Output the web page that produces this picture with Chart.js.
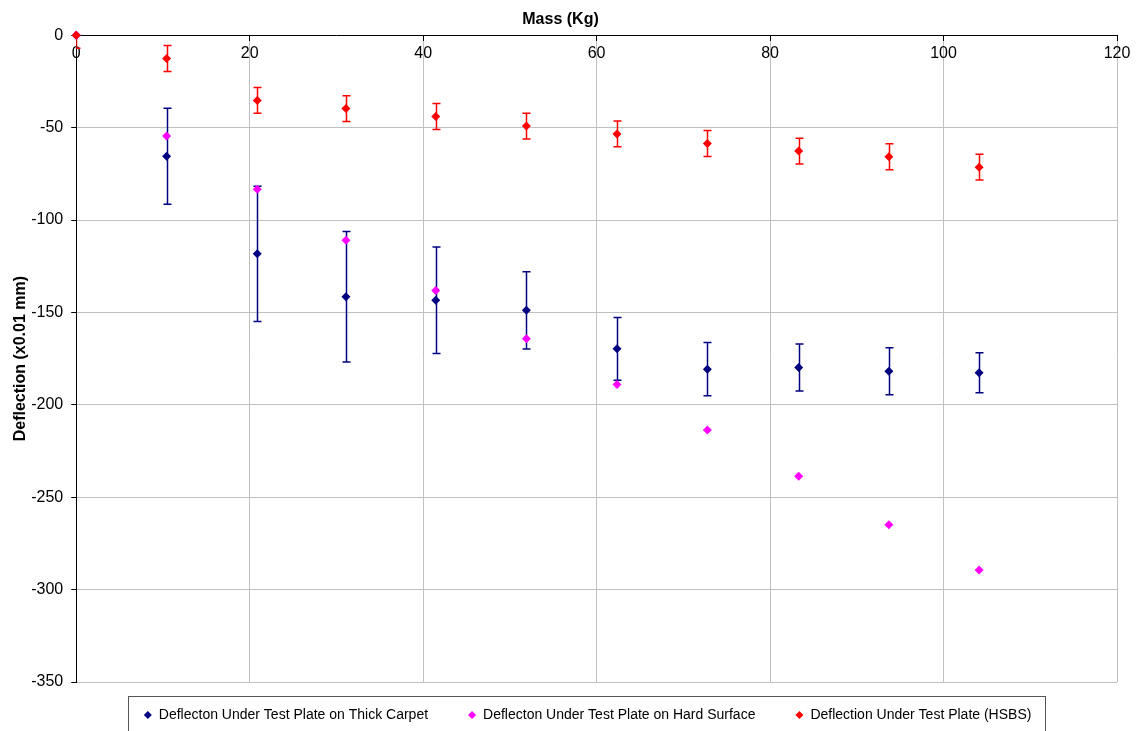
<!DOCTYPE html>
<html>
<head>
<meta charset="utf-8">
<title>Deflection vs Mass</title>
<script src="https://cdn.jsdelivr.net/npm/chart.js@4"></script>
<style>
  html, body { margin: 0; padding: 0; background: #fff; overflow: hidden; }
  #wrap { width: 1141px; height: 731px; overflow: hidden; }
</style>
</head>
<body>
<div id="wrap"><canvas id="deflection-chart" width="1141" height="746"></canvas></div>
<script>
// values
var massKg = [0, 10.42, 20.87, 31.1, 41.45, 51.9, 62.35, 72.77, 83.3, 93.7, 104.1];

var carpetDeflection = [0, -65.5, -118.3, -141.5, -143.4, -148.9, -169.7, -180.7, -179.8, -181.8, -182.7];
var carpetError      = [0, 26, 36.6, 35.3, 28.8, 20.9, 17, 14.4, 12.7, 12.7, 10.8];

var hardDeflection = [0, -54.6, -83.3, -110.9, -138.1, -164.3, -189.0, -213.7, -238.6, -264.9, -289.4];

var hsbsDeflection = [0, -12.6, -35.3, -39.7, -44.0, -49.2, -53.4, -58.6, -62.7, -65.8, -71.4];
var hsbsError      = [7, 7, 7, 7, 7, 7, 7, 7, 7, 7, 7];

var seriesNames = [
    'Deflecton Under Test Plate on Thick Carpet',
    'Deflecton Under Test Plate on Hard Surface',
    'Deflection Under Test Plate (HSBS)'
];
var seriesColors = ['#000080', '#ff00ff', '#ff0000'];

function toPoints(ys) {
    return massKg.map(function (x, i) { return { x: x, y: ys[i] }; });
}

// vertical error bars with caps, drawn under the markers
var errorBars = {
    id: 'errorBars',
    beforeDatasetsDraw: function (chart) {
        var ctx = chart.ctx, xs = chart.scales.x, ys = chart.scales.y, area = chart.chartArea;
        ctx.save();
        ctx.beginPath();
        ctx.rect(area.left, area.top, area.right - area.left, area.bottom - area.top);
        ctx.clip();
        chart.data.datasets.forEach(function (ds, di) {
            if (!ds.errors || !chart.isDatasetVisible(di)) return;
            ctx.strokeStyle = ds.borderColor;
            ctx.lineWidth = 1.5;
            ds.data.forEach(function (p, i) {
                var e = ds.errors[i];
                if (!e) return;
                var px = Math.round(xs.getPixelForValue(p.x)) + 0.5;
                var yTop = ys.getPixelForValue(p.y + e);
                var yBot = ys.getPixelForValue(p.y - e);
                ctx.beginPath();
                ctx.moveTo(px, yTop); ctx.lineTo(px, yBot);
                ctx.moveTo(px - 4, yTop); ctx.lineTo(px + 4, yTop);
                ctx.moveTo(px - 4, yBot); ctx.lineTo(px + 4, yBot);
                ctx.stroke();
            });
        });
        ctx.restore();
    }
};

// legend sits a bit closer to the plot than its padding would allow
var legendNudge = {
    id: 'legendNudge',
    afterLayout: function (chart) {
        var lg = chart.legend;
        if (!lg) return;
        lg.top -= 14; lg.bottom -= 14;
        lg.left -= 9; lg.right -= 9;
    }
};

// framed legend like the spreadsheet original
var legendFrame = {
    id: 'legendFrame',
    afterDraw: function (chart) {
        var lg = chart.legend;
        if (!lg || !lg.legendItems || !lg.legendItems.length) return;
        var ctx = chart.ctx;
        var font = Chart.helpers.toFont(lg.options.labels.font);
        ctx.save();
        ctx.font = font.string;
        var pad = lg.options.labels.padding, bw = lg.options.labels.pointStyleWidth;
        var total = 0;
        lg.legendItems.forEach(function (it, i) {
            total += bw + font.size / 2 + ctx.measureText(it.text).width + (i ? pad : 0);
        });
        var cx = (lg.left + lg.right) / 2;
        var left = Math.round(cx - total / 2 - 16) + 0.5;
        var right = Math.round(cx + total / 2 + 14) + 0.5;
        var top = Math.round(lg.top + pad - 12) + 0.5;
        ctx.strokeStyle = '#555555';
        ctx.lineWidth = 1;
        ctx.strokeRect(left, top, right - left, chart.height + 10 - top);
        ctx.restore();
    }
};

Chart.defaults.font.family = '"Liberation Sans", Arial, sans-serif';
Chart.defaults.color = '#000';

new Chart(document.getElementById('deflection-chart').getContext('2d'), {
    type: 'scatter',
    data: {
        datasets: [
            { label: seriesNames[0], data: toPoints(carpetDeflection), errors: carpetError, order: 2 },
            { label: seriesNames[1], data: toPoints(hardDeflection), order: 1 },
            { label: seriesNames[2], data: toPoints(hsbsDeflection), errors: hsbsError, order: 0 }
        ].map(function (ds, i) {
            ds.backgroundColor = seriesColors[i];
            ds.borderColor = seriesColors[i];
            ds.borderWidth = 0;
            ds.pointStyle = 'rectRot';
            ds.pointRadius = 4.5;
            ds.pointHoverRadius = 4.5;
            ds.clip = false;
            return ds;
        })
    },
    options: {
        responsive: false,
        animation: false,
        devicePixelRatio: 1,
        layout: { padding: { left: 4, right: 24, top: 0, bottom: 0 } },
        plugins: {
            title: {
                display: true,
                text: 'Mass (Kg)',
                font: { size: 16, weight: 'bold' },
                color: '#000',
                padding: { top: 10, bottom: 6 }
            },
            legend: {
                position: 'bottom',
                fullSize: false,
                labels: {
                    usePointStyle: true,
                    pointStyleWidth: 8,
                    boxHeight: 5.5,
                    padding: 40,
                    font: { size: 14 },
                    color: '#000',
                    sort: function (a, b) { return a.datasetIndex - b.datasetIndex; }
                }
            },
            tooltip: { enabled: false }
        },
        scales: {
            x: {
                type: 'linear',
                position: { y: 0 },
                min: 0,
                max: 120,
                ticks: { stepSize: 20, font: { size: 16 }, color: '#000', padding: 4 },
                grid: { color: '#c0c0c0', tickColor: '#000', tickLength: 5 },
                border: { color: '#000', width: 1 }
            },
            y: {
                min: -350,
                max: 0,
                ticks: { stepSize: 50, font: { size: 16 }, color: '#000', padding: 8 },
                grid: { color: '#c0c0c0', tickColor: '#000', tickLength: 5 },
                border: { color: '#000', width: 1 },
                title: {
                    display: true,
                    text: 'Deflection (x0.01 mm)',
                    font: { size: 16, weight: 'bold' },
                    color: '#000',
                    padding: { top: 7, bottom: -7 }
                }
            }
        }
    },
    plugins: [errorBars, legendNudge, legendFrame]
});
</script>
</body>
</html>
